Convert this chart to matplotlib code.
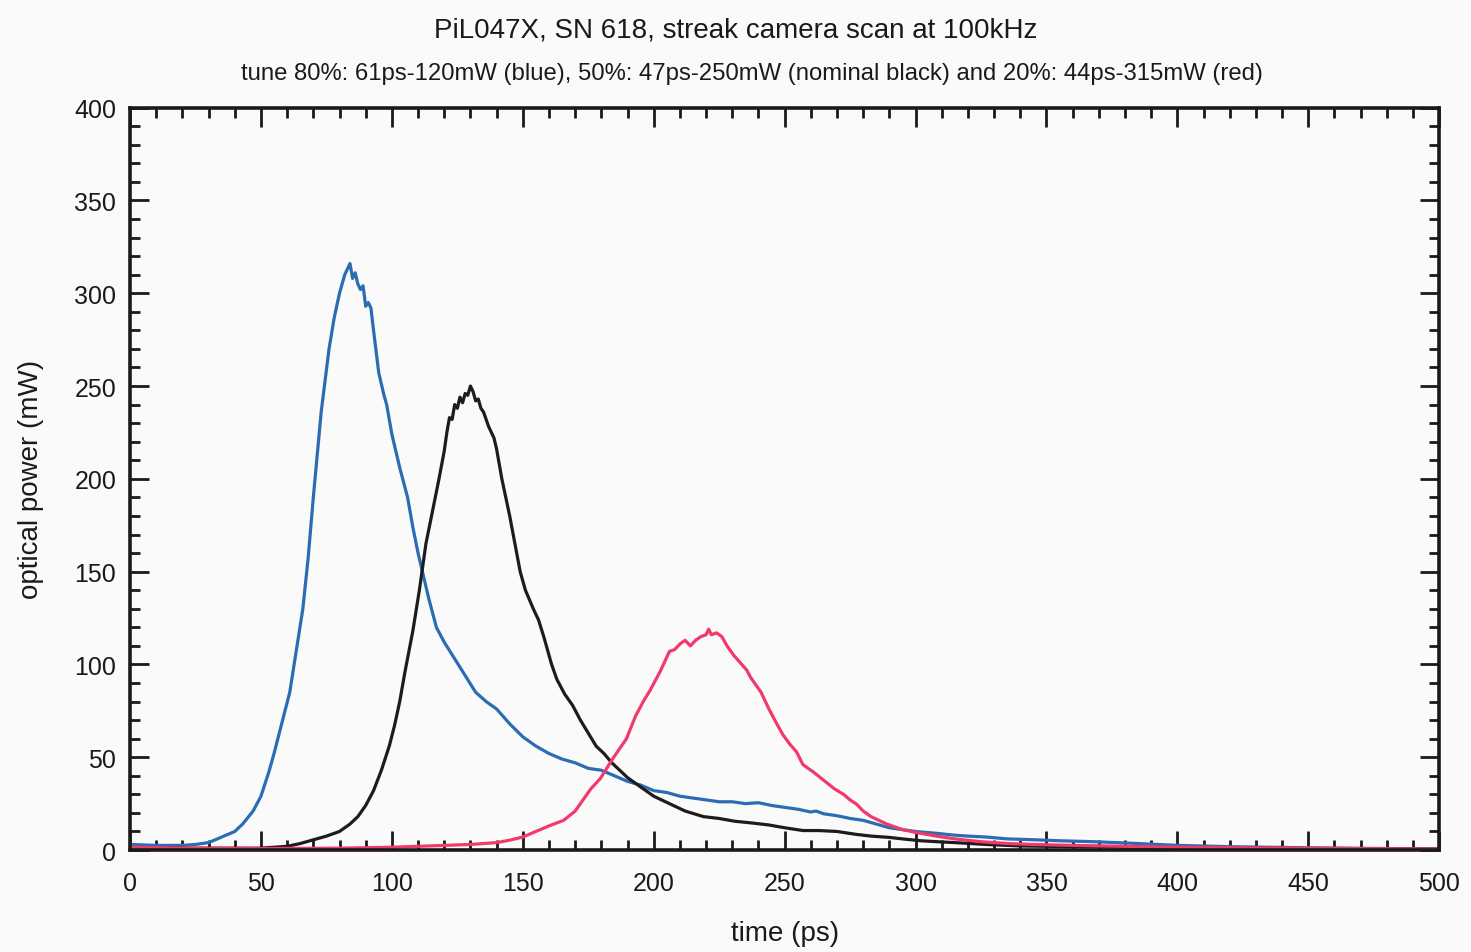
import matplotlib
matplotlib.use("Agg")
import matplotlib.pyplot as plt
from matplotlib.ticker import MultipleLocator

plt.rcParams['font.family'] = ['Liberation Sans', 'DejaVu Sans']

# ---- data ----
blue_t = [0, 10, 20, 25, 30, 35, 40, 43, 47, 50, 53, 55, 57, 59, 61, 63, 66, 68, 70, 73,
          76, 78, 80, 82, 83, 84, 85, 86, 87, 88, 89, 90, 91, 92, 93, 95, 97, 98, 100, 103,
          106, 108, 110, 112, 114, 117, 120, 124, 128, 132, 136, 140, 145, 150, 155, 160,
          165, 170, 175, 180, 185, 190, 195, 200, 205, 210, 215, 220, 225, 230, 235, 240,
          245, 250, 255, 260, 262, 265, 270, 275, 280, 285, 290, 295, 300, 308, 315, 320,
          327, 335, 346, 355, 368, 385, 400, 420, 450, 480, 500]
blue_p = [3, 2.5, 2.5, 3, 4, 7, 10, 14, 21, 29, 42, 52, 63, 74, 85, 103, 130, 157, 190, 236,
          270, 287, 300, 310, 313, 316, 308, 311, 305, 302, 304, 293, 295, 292, 280, 257, 245, 240, 224, 206,
          190, 174, 160, 148, 136, 120, 112, 103, 94, 85, 80, 76, 68, 61, 56, 52,
          49, 47, 44, 43, 40, 37, 35, 32, 31, 29, 28, 27, 26, 26, 25, 25.5,
          24, 23, 22, 20.5, 21, 19.5, 18.5, 17, 16, 14, 12, 11, 10, 9, 8, 7.5,
          7, 6, 5.5, 5, 4.5, 3.5, 2.5, 1.8, 1.2, 0.8, 0.5]

black_t = [0, 20, 40, 50, 55, 60, 65, 70, 75, 80, 84, 87, 90, 93, 96, 99, 101, 103, 105, 108,
           110.5, 113, 116, 118, 120, 121, 122, 123, 124, 125, 126, 127, 128, 129, 130, 131, 132, 133, 134, 135,
           137, 139, 140, 142, 145, 147, 149, 151, 154, 156, 158, 161, 163, 166, 169, 172, 175, 178, 181, 184,
           187, 190, 193, 197, 200, 206, 212, 219, 225, 231, 238, 244, 250, 257, 263, 270, 277, 283, 290, 295,
           302, 308, 315, 327, 340, 360, 380, 400, 450, 500]
black_p = [1, 1, 1, 1, 1.5, 2, 3.5, 5.5, 7.5, 10, 14, 18, 24, 32, 43, 56, 67, 80, 96, 118,
           140, 165, 186, 200, 215, 225, 233, 232, 240, 238, 244, 241, 246, 245, 250, 247, 242, 243, 238, 236,
           228, 222, 216, 200, 180, 165, 150, 140, 130, 124, 115, 100, 92, 84, 78, 70, 63, 56, 52, 47,
           43, 39, 36, 32, 29, 25, 21, 18, 17, 15.5, 14.5, 13.5, 12, 10.5, 10.5, 10, 8.5, 7.5, 6.8, 6,
           5, 4.5, 4, 3, 2.2, 1.8, 1.5, 1.2, 0.8, 0.5]

red_t = [0, 20, 50, 80, 100, 120, 130, 140, 145, 150, 155, 160, 165.6, 170, 173, 176, 179.6, 184.5, 189.6, 193,
         196, 198.6, 202.4, 206, 208, 210, 212, 214, 216, 218, 220, 221, 222, 224, 226, 228, 230.5, 233, 235.5, 237,
         239, 241, 244, 247, 249.4, 252, 254.5, 257, 261, 265, 269, 272.5, 275, 277.5, 280, 283, 286, 289, 295, 300,
         308, 315, 325, 335, 345, 360, 380, 400, 450, 500]
red_p = [1.5, 1, 0.8, 1, 1.5, 2.5, 3, 4, 5.3, 7, 10, 13, 16, 21, 27, 33, 38.5, 49.5, 60, 72,
         80, 86, 96, 107, 108, 111, 113, 110, 113, 115, 116, 119, 116, 117, 115, 110, 105, 101, 97, 93,
         89, 85, 76, 68, 62, 57, 53, 46, 42, 37.5, 33, 30, 27, 24.7, 21, 18, 16, 14, 11, 9.5,
         7.5, 6, 4.5, 3.5, 3, 2.5, 2, 1.5, 1, 0.5]

title = "PiL047X, SN 618, streak camera scan at 100kHz"
subtitle = "tune 80%: 61ps-120mW (blue), 50%: 47ps-250mW (nominal black) and 20%: 44ps-315mW (red)"

# ---- figure ----
bg = '#fafafa'
fig = plt.figure(figsize=(14.71, 9.53), dpi=100, facecolor=bg)
ax = fig.add_axes([0.0884, 0.107, 0.890, 0.779], facecolor=bg)

ax.plot(blue_t, blue_p, color='#2b6cb3', lw=2.3)
ax.plot(black_t, black_p, color='#1c1c1c', lw=2.3)
ax.plot(red_t, red_p, color='#f23a6a', lw=2.3)

ax.set_xlim(0, 500)
ax.set_ylim(0, 400)
ax.xaxis.set_major_locator(MultipleLocator(50))
ax.xaxis.set_minor_locator(MultipleLocator(10))
ax.yaxis.set_major_locator(MultipleLocator(50))
ax.yaxis.set_minor_locator(MultipleLocator(10))
ax.tick_params(which='both', direction='in', top=True, right=True, width=2.0, color='#1a1a1a')
ax.tick_params(which='major', length=14, labelsize=18, colors='#1a1a1a')
ax.tick_params(which='minor', length=7)
ax.tick_params(axis='x', which='major', pad=15)
ax.tick_params(axis='y', which='major', pad=10)
for s in ax.spines.values():
    s.set_linewidth(2.6)
    s.set_color('#1a1a1a')

ax.set_xlabel('time (ps)', fontsize=20, labelpad=18, color='#1a1a1a')
ax.set_ylabel('optical power (mW)', fontsize=20, labelpad=22, color='#1a1a1a')

fig.text(0.5, 0.968, title, ha='center', va='center', fontsize=20, color='#1a1a1a')
fig.text(0.511, 0.922, subtitle, ha='center', va='center', fontsize=17.2, color='#1a1a1a')

fig.savefig('out.png', dpi=100, facecolor=bg)
